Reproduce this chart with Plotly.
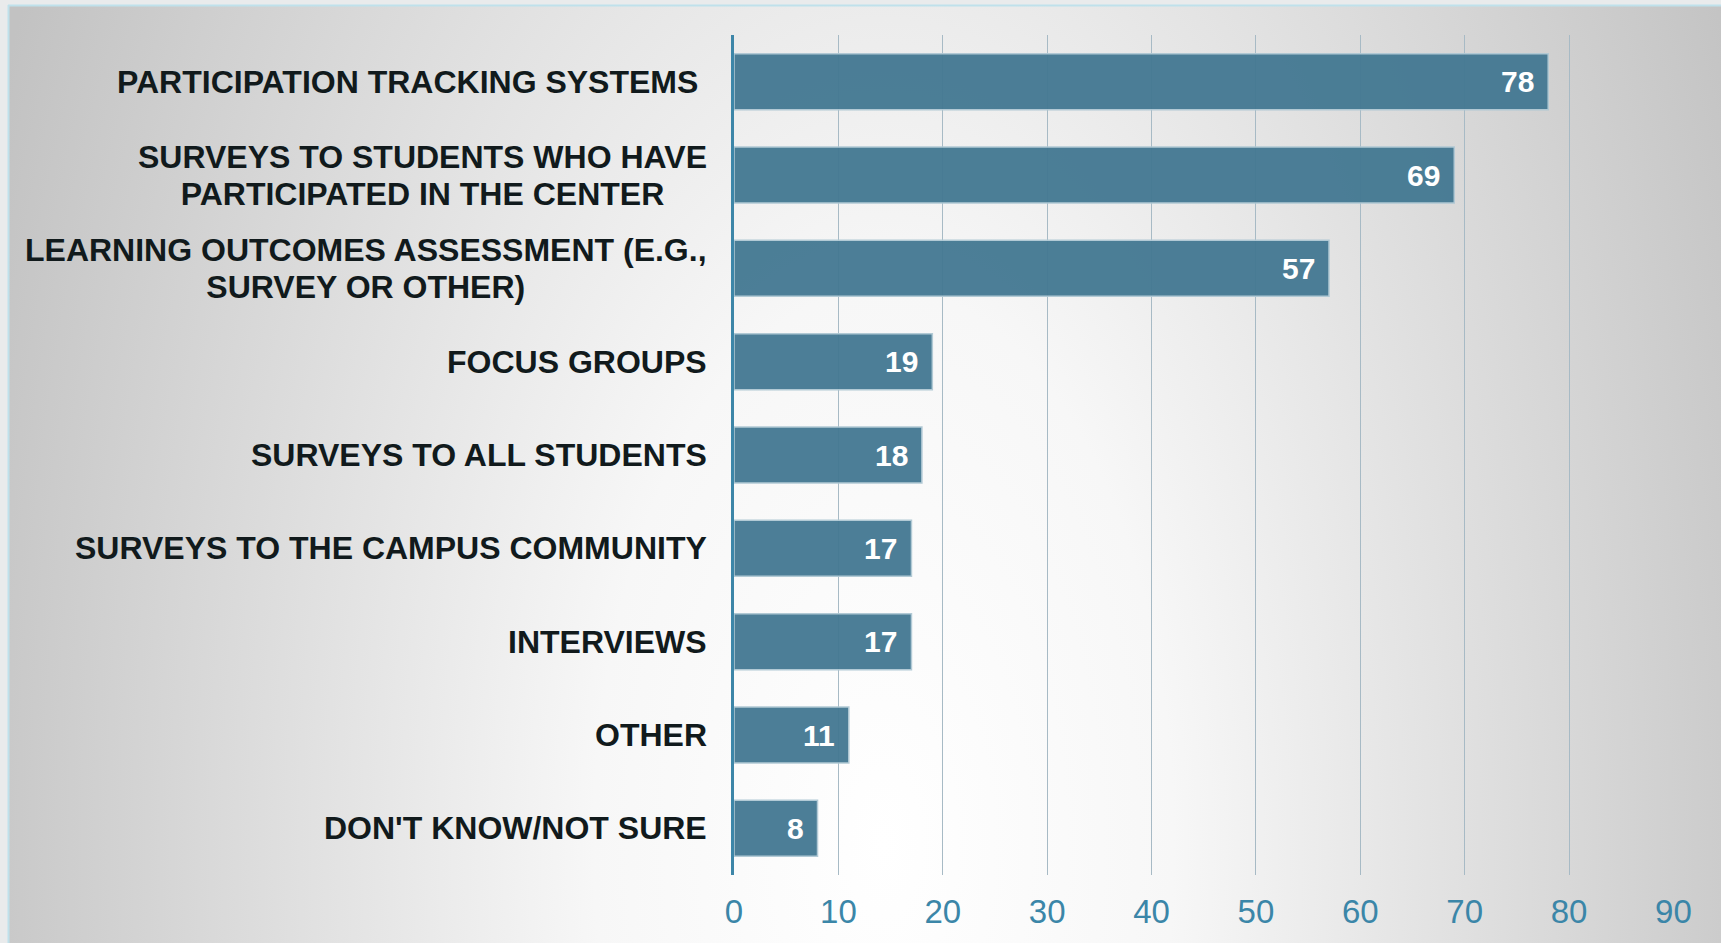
import base64
import plotly.graph_objects as go

categories = [
    "PARTICIPATION TRACKING SYSTEMS&nbsp;",
    "SURVEYS TO STUDENTS WHO HAVE<br>PARTICIPATED IN THE CENTER",
    "LEARNING OUTCOMES ASSESSMENT (E.G.,<br>SURVEY OR OTHER)",
    "FOCUS GROUPS",
    "SURVEYS TO ALL STUDENTS",
    "SURVEYS TO THE CAMPUS COMMUNITY",
    "INTERVIEWS",
    "OTHER",
    "DON'T KNOW/NOT SURE",
]
values = [78, 69, 57, 19, 18, 17, 17, 11, 8]
x_ticks = [0, 10, 20, 30, 40, 50, 60, 70, 80, 90]

W, H = 1721, 943
ML, MR, MT, MB = 734, 47, 35, 68
PW, PH = W - ML - MR, H - MT - MB


def px_x(p):
    return (p - ML) / PW


def px_y(p):
    return (H - MB - p) / PH


svg = f"""<svg xmlns='http://www.w3.org/2000/svg' width='1712' height='937' viewBox='0 0 1712 937' preserveAspectRatio='none'>
<defs><radialGradient id='g' gradientUnits='userSpaceOnUse' cx='860' cy='815' r='1000'
gradientTransform='translate(860 815) scale(0.95 1.8) translate(-860 -815)'>
<stop offset='0' stop-color='#ffffff'/><stop offset='0.3' stop-color='#f7f7f7'/>
<stop offset='1' stop-color='#c2c2c2'/></radialGradient></defs>
<rect width='1712' height='937' fill='url(#g)'/></svg>"""
bg_src = "data:image/svg+xml;base64," + base64.b64encode(svg.encode()).decode()

fig = go.Figure()
fig.add_trace(go.Bar(
    x=values,
    y=categories,
    orientation="h",
    marker=dict(color="#437892", opacity=0.95,
                line=dict(color="rgba(175,200,212,1)", width=1.5)),
    width=0.6,
    hoverinfo="x+y",
))

annotations = []
for c, v in zip(categories, values):
    annotations.append(dict(
        x=v, y=c, xref="x", yref="y", text=str(v), showarrow=False,
        xanchor="right", yanchor="middle", xshift=-12,
        font=dict(family="Liberation Sans, Arial", size=30, color="white", weight="bold"),
    ))
    styled = "<br>".join(f"<span style='font-size:32px'>{part}</span>" for part in c.split("<br>"))
    annotations.append(dict(
        x=0, y=c, xref="paper", yref="y", text=styled, showarrow=False,
        xanchor="right", yanchor="middle", align="center", xshift=-25,
        font=dict(family="Liberation Sans, Arial", size=28.5, color="#111a1c", weight="bold"),
    ))

fig.update_layout(
    width=W, height=H,
    margin=dict(l=ML, r=MR, t=MT, b=MB, pad=0, autoexpand=False),
    paper_bgcolor="#e9ebec",
    plot_bgcolor="rgba(0,0,0,0)",
    showlegend=False,
    annotations=annotations,
    images=[dict(
        source=bg_src, xref="paper", yref="paper",
        x=px_x(9), y=px_y(6), sizex=(W + 20) / PW, sizey=(H + 20) / PH,
        xanchor="left", yanchor="top", sizing="stretch", layer="below",
    )],
    shapes=[
        dict(type="line", xref="paper", yref="paper", x0=px_x(8.5), x1=px_x(8.5),
             y0=px_y(5), y1=px_y(H + 5), line=dict(color="#bfe1eb", width=2)),
        dict(type="line", xref="paper", yref="paper", x0=px_x(8), x1=px_x(W + 5),
             y0=px_y(5.5), y1=px_y(5.5), line=dict(color="#bfe1eb", width=2)),
    ],
    xaxis=dict(
        range=[0, 90.05], tickvals=x_ticks, ticktext=[str(t) for t in x_ticks],
        showgrid=True, gridcolor="#a7bac5", gridwidth=1, zeroline=False,
        showline=False, ticks="", ticklabelstandoff=14, fixedrange=True,
        automargin=False,
        tickfont=dict(family="Liberation Sans Narrow, Arial Narrow, Liberation Sans", size=33, color="#3b86a8"),
    ),
    yaxis=dict(
        categoryorder="array", categoryarray=categories, autorange="reversed",
        showticklabels=False, showgrid=False, zeroline=False, fixedrange=True,
        automargin=False,
        showline=True, linecolor="#3d86a8", linewidth=3, ticks="",
    ),
)

fig.write_html(
    "out.html",
    config={"displayModeBar": False},
    post_script="document.body.style.margin='0';document.body.style.overflow='hidden';",
)
